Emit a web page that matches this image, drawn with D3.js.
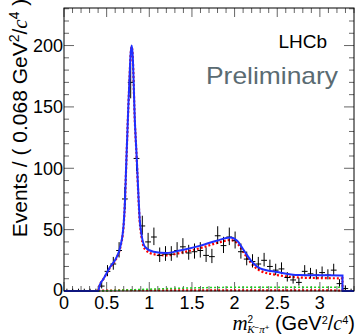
<!DOCTYPE html>
<html>
<head>
<meta charset="utf-8">
<script src="https://cdn.jsdelivr.net/npm/d3@7"></script>
<style>
  html, body { margin: 0; padding: 0; background: #fff; }
  svg { display: block; }
  text { font-family: "Liberation Sans", Arial, sans-serif; }
</style>
</head>
<body>
<svg id="chart"></svg>
<script>
// histogram: 50 bins of 0.068 GeV^2/c^4 from 0
const binLow = 0
const binWidth = 0.068
const counts = [
    0, 0, 0, 0, 0, 0, 4, 16, 22, 33,
    75, 170, 108, 53, 40, 44, 29, 30, 30, 33,
    36, 31, 32, 33, 29, 28, 45, 37, 44, 41,
    32, 26, 24, 22, 25, 20, 17, 18, 11, 9,
    7, 16, 14, 13, 15, 13, 17, 6, 2, 0
]

// total fit (blue)
const totalX = [0, 0.40, 0.42, 0.46, 0.54, 0.62, 0.66, 0.70, 0.715, 0.727, 0.754, 0.766, 0.781, 0.794, 0.807, 0.817, 0.825, 0.853, 0.87, 0.892, 0.95, 1.05, 1.2, 1.36, 1.6, 1.79, 1.95, 2.03, 2.11, 2.19, 2.3, 2.5, 2.75, 3.0, 3.265, 3.265, 3.4]
const totalY = [0, 0, 5, 9.5, 19.5, 28, 36, 55, 74, 98, 150, 170, 193, 200, 190, 170, 150, 108, 82, 55, 36, 32, 31, 33, 37, 41, 43.5, 41, 33, 25, 18.5, 15.5, 13, 12.8, 12.6, 0, 0]

// component (red dotted)
const redX = [0.40, 0.42, 0.46, 0.54, 0.62, 0.66, 0.70, 0.715, 0.727, 0.754, 0.766, 0.781, 0.794, 0.807, 0.817, 0.825, 0.853, 0.87, 0.892, 0.95, 1.05, 1.2, 1.36, 1.6, 1.79, 1.95, 2.03, 2.11, 2.19, 2.3, 2.5, 2.75, 3.0, 3.265, 3.265]
const redY = [0, 5, 9.5, 19, 27.5, 35.5, 54, 73, 97, 149, 169, 192, 199, 189, 169, 149, 107, 80, 53, 34, 30, 29, 31, 35, 39, 41.5, 39, 31, 23, 16.5, 13, 11, 10.5, 10.3, 0]

// small components along the bottom
const greenX = [0.40, 0.7, 1.0, 1.5, 2.0, 2.5, 3.0, 3.265, 3.265]
const greenY = [0, 0.8, 1.5, 2.5, 3, 3, 3, 3, 0]
const flatX = [0.40, 1.0, 2.0, 3.265]
const flatY = [0.4, 0.6, 0.6, 0.5]

const xTicks = [0, 0.5, 1, 1.5, 2, 2.5, 3]
const yTicks = [0, 50, 100, 150, 200]

const W = 357
const H = 336
const margin = { top: 8, right: 3, bottom: 45, left: 64 }
const width = W - margin.left - margin.right
const height = H - margin.top - margin.bottom

const svg = d3.select('#chart')
    .attr('width', W)
    .attr('height', H)

const g = svg.append('g')
    .attr('transform', `translate(${margin.left},${margin.top})`)

const x = d3.scaleLinear().domain([0, 3.4]).range([0, width])
const y = d3.scaleLinear().domain([0, 230.6]).range([height, 0])

// ticks (ROOT style, inside on all four sides)
const tickCol = '#666'
const xMinor = d3.range(0, 3.41, 0.1)
const yMinor = d3.range(0, 231, 10)
xMinor.forEach((v, i) => {
    const major = i % 5 === 0
    const len = major ? 9 : 5
    g.append('line').attr('x1', x(v)).attr('x2', x(v)).attr('y1', height).attr('y2', height - len)
        .attr('stroke', tickCol).attr('stroke-width', 1)
    g.append('line').attr('x1', x(v)).attr('x2', x(v)).attr('y1', 0).attr('y2', len)
        .attr('stroke', tickCol).attr('stroke-width', 1)
})
yMinor.forEach((v, i) => {
    const major = i % 5 === 0
    const len = major ? 10 : 5
    g.append('line').attr('x1', 0).attr('x2', len).attr('y1', y(v)).attr('y2', y(v))
        .attr('stroke', tickCol).attr('stroke-width', 1)
    g.append('line').attr('x1', width).attr('x2', width - len).attr('y1', y(v)).attr('y2', y(v))
        .attr('stroke', tickCol).attr('stroke-width', 1)
})

// tick labels
g.selectAll('.xl')
    .data(xTicks)
    .enter()
    .append('text')
    .attr('x', d => x(d))
    .attr('y', height + 18)
    .attr('text-anchor', 'middle')
    .attr('font-size', 18)
    .text(d => d)

g.selectAll('.yl')
    .data(yTicks)
    .enter()
    .append('text')
    .attr('x', -1)
    .attr('y', d => y(d) + (d === 0 ? 4.5 : 6.5))
    .attr('text-anchor', 'end')
    .attr('font-size', 18)
    .text(d => d)

// curves
const line = (xs, ys) => d3.line()
    .x(i => x(xs[i]))
    .y(i => y(ys[i]))
    .curve(d3.curveMonotoneX)(d3.range(xs.length))

g.append('path').attr('d', line(flatX, flatY))
    .attr('fill', 'none').attr('stroke', '#e00').attr('stroke-width', 2).attr('stroke-dasharray', '2,2')
g.append('path').attr('d', line(greenX, greenY))
    .attr('fill', 'none').attr('stroke', '#2c2').attr('stroke-width', 1.5).attr('stroke-dasharray', '2,2')
g.append('path').attr('d', line(redX, redY))
    .attr('fill', 'none').attr('stroke', '#f00').attr('stroke-width', 2.2).attr('stroke-dasharray', '2,2')

// data points with Poisson-style errors
const pts = counts.map((n, i) => {
    const c = binLow + (i + 0.5) * binWidth
    const up = n + Math.sqrt(n + 0.75) + 1
    const lo = n > 0 ? n * Math.pow(1 - 1 / (9 * n) - 1 / (3 * Math.sqrt(n)), 3) : 0
    return { c, n, up, lo }
})
const pg = g.append('g').attr('stroke', '#000').attr('stroke-width', 1)
pts.forEach(d => {
    pg.append('line').attr('x1', x(d.c)).attr('x2', x(d.c)).attr('y1', y(d.lo)).attr('y2', y(d.up))
    pg.append('line').attr('x1', x(d.c - binWidth / 2)).attr('x2', x(d.c + binWidth / 2)).attr('y1', y(d.n)).attr('y2', y(d.n))
})

g.append('path').attr('d', line(totalX, totalY))
    .attr('fill', 'none').attr('stroke', '#1f2fff').attr('stroke-width', 2)

// frame
g.append('rect').attr('width', width).attr('height', height)
    .attr('fill', 'none').attr('stroke', '#000').attr('stroke-width', 1)

// labels
g.append('text')
    .attr('x', 263).attr('y', 40)
    .attr('text-anchor', 'end')
    .attr('font-size', 19)
    .text('LHCb')

g.append('text')
    .attr('x', 142).attr('y', 76)
    .attr('font-family', 'Lato, "Open Sans", sans-serif')
    .attr('font-weight', 300)
    .attr('font-size', 24)
    .attr('textLength', 132)
    .attr('lengthAdjust', 'spacingAndGlyphs')
    .attr('fill', '#5a6b72')
    .text('Preliminary')

// y title
const yt = svg.append('text')
    .attr('transform', 'translate(27,118) rotate(-90)')
    .attr('text-anchor', 'middle')
    .attr('font-size', 21)
yt.append('tspan').text('Events / ( 0.068 GeV')
yt.append('tspan').attr('font-size', 14).attr('dy', -8).text('2')
yt.append('tspan').attr('dy', 8).text('/')
yt.append('tspan').attr('font-family', '"Liberation Serif", serif').attr('font-style', 'italic').text('c')
yt.append('tspan').attr('font-size', 14).attr('dy', -8).text('4')
yt.append('tspan').attr('dy', 8).text(' )')

// x title
const xt = svg.append('text')
    .attr('x', 355).attr('y', 330)
    .attr('text-anchor', 'end')
    .attr('font-size', 20)
xt.append('tspan').attr('font-family', '"Liberation Serif", serif').attr('font-style', 'italic').attr('font-size', 21).text('m')
xt.append('tspan').attr('font-size', 10).attr('dy', -7).text('2')
xt.append('tspan').attr('font-family', '"Liberation Serif", serif').attr('font-style', 'italic').attr('font-size', 11)
    .attr('dx', -6).attr('dy', 10).text('K')
xt.append('tspan').attr('font-size', 8).attr('dy', -3).text('−')
xt.append('tspan').attr('font-family', '"Liberation Serif", serif').attr('font-style', 'italic').attr('font-size', 11)
    .attr('dy', 3).text('π')
xt.append('tspan').attr('font-size', 8).attr('dy', -3).text('+')
xt.append('tspan').attr('dy', 0).text(' (GeV')
xt.append('tspan').attr('font-size', 11).attr('dy', -6).text('2')
xt.append('tspan').attr('dy', 6).text('/')
xt.append('tspan').attr('font-family', '"Liberation Serif", serif').attr('font-style', 'italic').text('c')
xt.append('tspan').attr('font-size', 11).attr('dy', -6).text('4')
xt.append('tspan').attr('dy', 6).text(')')
</script>
</body>
</html>
